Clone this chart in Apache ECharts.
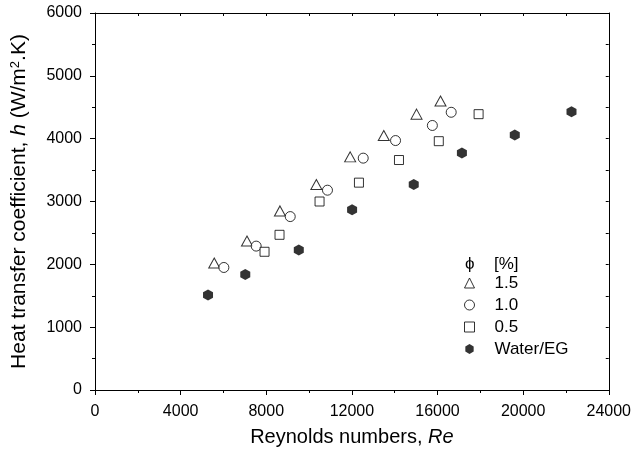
<!DOCTYPE html>
<html>
<head>
<meta charset="utf-8">
<script src="https://cdn.jsdelivr.net/npm/echarts@6/dist/echarts.min.js"></script>
<style>
  html, body { margin: 0; padding: 0; background: #fff; }
  #chart { width: 634px; height: 454px; }
</style>
</head>
<body>
<div id="chart"></div>
<script>
// Re / h pairs
const phi15Re = [5570, 7100, 8640, 10340, 11920, 13490, 15020, 16140];
const phi15H  = [2020, 2370, 2850, 3270, 3710, 4050, 4390, 4600];
const phi10Re = [6020, 7530, 9120, 10860, 12530, 14040, 15760, 16640];
const phi10H  = [1950, 2290, 2760, 3180, 3690, 3970, 4210, 4420];
const phi05Re = [7920, 8620, 10490, 12330, 14200, 16060, 17920];
const phi05H  = [2200, 2470, 3000, 3300, 3660, 3960, 4390];
const baseRe  = [5280, 7020, 9520, 12010, 14890, 17140, 19610, 22260];
const baseH   = [1510, 1840, 2230, 2870, 3270, 3770, 4060, 4430];
const seriesNames = ['1.5', '1.0', '0.5', 'Water/EG'];

const font = 'Arial, "Liberation Sans", Helvetica, sans-serif';
const hexagon = 'path://M5,0 L10,3 L10,9 L5,12 L0,9 L0,3 Z';

function pairs(xs, ys) {
  return xs.map((x, i) => [x, ys[i]]);
}

const openStyle = { color: '#fff', borderColor: '#000', borderWidth: 1 };
const plain = v => String(v);

const option = {
  animation: false,
  textStyle: { fontFamily: font, color: '#000' },
  grid: { left: 95, right: 22, top: 13, bottom: 64 },
  legend: {
    data: seriesNames,
    orient: 'vertical',
    left: 464,
    top: 272,
    padding: 0,
    itemWidth: 10,
    itemHeight: 10,
    itemGap: 0,
    itemStyle: { borderWidth: 1 },
    textStyle: { fontFamily: font, fontSize: 17, color: '#000', lineHeight: 22, padding: [0, 0, 0, 15] }
  },
  graphic: [
    { type: 'text', left: 465, top: 256, style: { text: 'ϕ', font: '17px ' + font, fill: '#000' } },
    { type: 'text', left: 494, top: 256, style: { text: '[%]', font: '17px ' + font, fill: '#000' } }
  ],
  xAxis: [
    {
      type: 'value', min: 0, max: 24000, interval: 4000,
      name: 'Reynolds numbers, {i|Re}',
      nameLocation: 'middle', nameGap: 37,
      nameTextStyle: { fontSize: 20, color: '#000', rich: { i: { fontSize: 20, fontStyle: 'italic' } } },
      axisLine: { onZero: false, lineStyle: { color: '#000', width: 1 } },
      axisTick: { inside: false, length: 5, lineStyle: { color: '#000' } },
      minorTick: { show: true, splitNumber: 2, length: 3, lineStyle: { color: '#000' } },
      axisLabel: { fontSize: 16, color: '#000', margin: 14, formatter: plain },
      splitLine: { show: false }
    },
    {
      type: 'value', position: 'top', min: 0, max: 24000, interval: 2000,
      axisLine: { show: true, onZero: false, lineStyle: { color: '#000', width: 1 } },
      axisTick: { inside: true, length: 3, lineStyle: { color: '#000' } },
      axisLabel: { show: false },
      splitLine: { show: false }
    }
  ],
  yAxis: [
    {
      type: 'value', min: 0, max: 6000, interval: 1000,
      name: 'Heat transfer coefficient, {i|h} (W/m{s|2}.K)',
      nameLocation: 'middle', nameGap: 65,
      nameTextStyle: {
        fontSize: 21, color: '#000',
        rich: {
          i: { fontSize: 21, fontStyle: 'italic' },
          s: { fontSize: 13, verticalAlign: 'top' }
        }
      },
      axisLine: { show: true, onZero: false, lineStyle: { color: '#000', width: 1 } },
      axisTick: { show: true, inside: false, length: 5, lineStyle: { color: '#000' } },
      minorTick: { show: true, splitNumber: 2, length: 3, lineStyle: { color: '#000' } },
      axisLabel: { fontSize: 16, color: '#000', margin: 13, formatter: plain },
      splitLine: { show: false }
    },
    {
      type: 'value', position: 'right', min: 0, max: 6000, interval: 500,
      axisLine: { show: true, onZero: false, lineStyle: { color: '#000', width: 1 } },
      axisTick: { show: true, inside: true, length: 3, lineStyle: { color: '#000' } },
      axisLabel: { show: false },
      splitLine: { show: false }
    }
  ],
  series: [
    { name: '1.5', type: 'scatter', symbol: 'triangle', symbolSize: [11, 10],
      itemStyle: openStyle, data: pairs(phi15Re, phi15H) },
    { name: '1.0', type: 'scatter', symbol: 'circle', symbolSize: 10,
      itemStyle: openStyle, data: pairs(phi10Re, phi10H) },
    { name: '0.5', type: 'scatter', symbol: 'rect', symbolSize: 9,
      itemStyle: openStyle, data: pairs(phi05Re, phi05H) },
    { name: 'Water/EG', type: 'scatter', symbol: hexagon, symbolSize: [10, 11],
      itemStyle: { color: '#000' }, data: pairs(baseRe, baseH) }
  ]
};

const chart = echarts.init(document.getElementById('chart'));
chart.setOption(option);
</script>
</body>
</html>
